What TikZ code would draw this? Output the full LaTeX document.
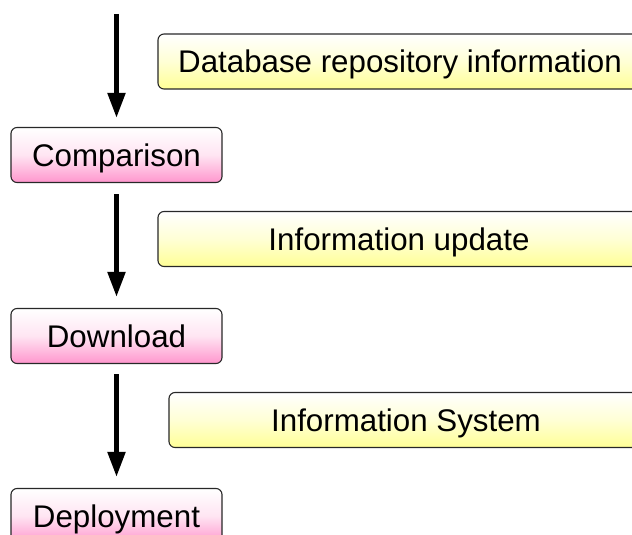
\documentclass[tikz,border=0pt]{standalone}
\usepackage{fontspec}
\setmainfont{Liberation Sans}
\usetikzlibrary{arrows.meta}
\definecolor{pinkbot}{RGB}{255,150,205}
\definecolor{yellowbot}{RGB}{255,255,150}
\definecolor{edgegray}{RGB}{40,40,40}
\tikzset{
  boxtext/.style={font=\fontsize{31.3}{36}\selectfont,
    text height=22.5pt, text depth=0pt, inner sep=0pt},
  stage/.style={boxtext, draw=edgegray, line width=1.1pt, rounded corners=6pt,
    top color=white, bottom color=pinkbot, middle color=pinkbot!25,
    minimum width=211pt, minimum height=55pt},
  info/.style={boxtext, draw=edgegray, line width=1.1pt, rounded corners=6pt,
    top color=white, bottom color=yellowbot, middle color=yellowbot!40,
    minimum height=55pt},
  flow/.style={line width=5pt, -{Triangle[length=25pt,width=17pt]}}
}
\begin{document}
\begin{tikzpicture}[x=1pt,y=-1pt]
\useasboundingbox (0,0) rectangle (632,535);
\clip (0,0) rectangle (632,535);
% process stages
\node[stage] (comp) at (116.5,155) {Comparison};
\node[stage] (down) at (116.5,336) {Download};
\node[stage] (depl) at (116.5,516) {Deployment};
% side notes
\node[info, minimum width=484pt] (repo) at (400,61.5) {Database repository information};
\node[info, minimum width=482pt] (upd) at (399,239) {Information update};
\node[info, minimum width=474pt] (sys) at (406,420) {Information System};
% flow arrows
\coordinate (top) at (116.5,14);
\draw[flow, shorten >=9pt] (top) -- (comp.north);
\draw[flow, shorten <=11pt, shorten >=11pt] (comp.south) -- (down.north);
\draw[flow, shorten <=10pt, shorten >=11pt] (down.south) -- (depl.north);
\end{tikzpicture}
\end{document}
